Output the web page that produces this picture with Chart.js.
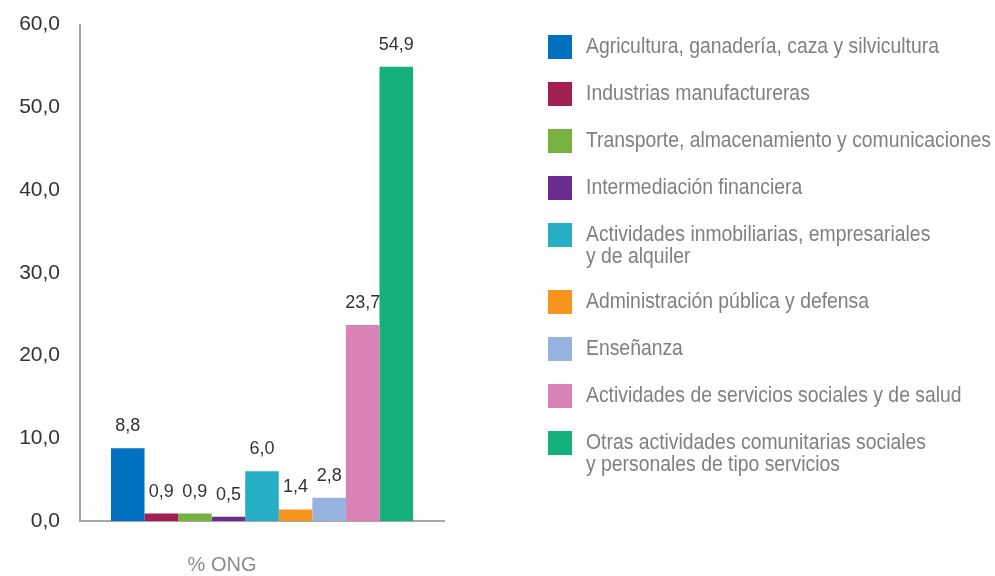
<!DOCTYPE html>
<html>
<head>
<meta charset="utf-8">
<script src="https://cdn.jsdelivr.net/npm/chart.js@4.4.1/dist/chart.umd.min.js"></script>
<style>
  body { margin: 0; background: #fff; }
  #wrap { width: 995px; height: 576px; position: relative; }
</style>
</head>
<body>
<div id="wrap"><canvas id="chart"></canvas></div>
<script>
// Datos
const categories = ['% ONG'];
const sectors = [
  'Agricultura, ganadería, caza y silvicultura',
  'Industrias manufactureras',
  'Transporte, almacenamiento y comunicaciones',
  'Intermediación financiera',
  ['Actividades inmobiliarias, empresariales', 'y de alquiler'],
  'Administración pública y defensa',
  'Enseñanza',
  'Actividades de servicios sociales y de salud',
  ['Otras actividades comunitarias sociales', 'y personales de tipo servicios']
];
const values = [8.8, 0.9, 0.9, 0.5, 6.0, 1.4, 2.8, 23.7, 54.9];
const colors = ['#0070c0', '#a31f51', '#77b140', '#6a2c91', '#26afc4', '#f7941d', '#95b3de', '#da82b5', '#14b27a'];
const yTicks = [0, 10, 20, 30, 40, 50, 60];

const fmt = v => v.toFixed(1).replace('.', ',');
const FONT = '"Liberation Sans", Arial, sans-serif';

// etiquetas de valor encima de cada barra
const valueLabels = {
  id: 'valueLabels',
  afterDatasetsDraw(chart) {
    const ctx = chart.ctx;
    ctx.save();
    ctx.font = '18px ' + FONT;
    ctx.fillStyle = '#333333';
    ctx.textAlign = 'center';
    ctx.textBaseline = 'bottom';
    chart.data.datasets.forEach((ds, i) => {
      const bar = chart.getDatasetMeta(i).data[0];
      ctx.fillText(fmt(ds.data[0]), bar.x, bar.y - 13);
    });
    ctx.restore();
  }
};

// leyenda a la derecha (texto algo estrecho, como en el original)
const sideLegend = {
  id: 'sideLegend',
  afterDraw(chart) {
    const ctx = chart.ctx;
    ctx.save();
    ctx.font = '22px ' + FONT;
    ctx.textBaseline = 'middle';
    let y = 35;
    chart.data.datasets.forEach(ds => {
      const lines = Array.isArray(ds.label) ? ds.label : [ds.label];
      ctx.fillStyle = ds.backgroundColor;
      ctx.fillRect(548, y, 24, 24);
      ctx.fillStyle = '#808080';
      lines.forEach((t, k) => {
        ctx.save();
        ctx.translate(586, y + 12 + k * 22);
        ctx.scale(0.88, 1);
        ctx.fillText(t, 0, 0);
        ctx.restore();
      });
      y += 47 + (lines.length - 1) * 20;
    });
    ctx.restore();
  }
};

new Chart(document.getElementById('chart'), {
  type: 'bar',
  data: {
    labels: categories,
    datasets: sectors.map((s, i) => ({
      label: s,
      data: [values[i]],
      backgroundColor: colors[i],
      borderWidth: 0,
      barPercentage: 1,
      categoryPercentage: 0.83
    }))
  },
  options: {
    responsive: true,
    maintainAspectRatio: false,
    animation: false,
    layout: { padding: { top: 4, right: 551, left: 0, bottom: 0 } },
    plugins: { legend: { display: false }, tooltip: { enabled: false } },
    scales: {
      x: {
        grid: { display: false },
        border: { display: true, color: '#a6a6a6', width: 2 },
        ticks: { color: '#8c8c8c', font: { family: FONT, size: 20 }, padding: 24, labelOffset: -40 },
        afterFit: s => { s.height = 55; }
      },
      y: {
        min: 0,
        max: 60,
        grid: { display: false },
        border: { display: true, color: '#a6a6a6', width: 2 },
        afterBuildTicks: s => { s.ticks = yTicks.map(v => ({ value: v })); },
        ticks: { color: '#333333', font: { family: FONT, size: 21 }, padding: 12, callback: v => fmt(v) },
        afterFit: s => { s.width = 80; }
      }
    }
  },
  plugins: [valueLabels, sideLegend]
});
</script>
</body>
</html>
